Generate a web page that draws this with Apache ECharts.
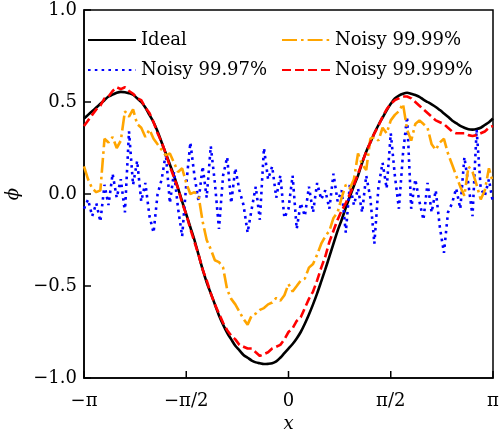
<!DOCTYPE html>
<html>
<head>
<meta charset="utf-8">
<script src="https://cdn.jsdelivr.net/npm/echarts@6/dist/echarts.min.js"></script>
<style>
html,body{margin:0;padding:0;background:#fff;}
#chart{width:499px;height:433px;}
</style>
</head>
<body>
<div id="chart"></div>
<script>
// x sample positions (radians)
const xs = [-3.1416,-3.079,-3.016,-2.953,-2.890,-2.827,-2.765,-2.702,-2.639,-2.576,
-2.513,-2.450,-2.388,-2.325,-2.262,-2.199,-2.136,-2.073,-2.011,-1.948,
-1.885,-1.822,-1.759,-1.696,-1.634,-1.571,-1.508,-1.445,-1.382,-1.319,
-1.257,-1.194,-1.131,-1.068,-1.005,-0.942,-0.880,-0.817,-0.754,-0.691,
-0.628,-0.565,-0.503,-0.440,-0.377,-0.314,-0.251,-0.188,-0.126,-0.063,
0,
0.063,0.126,0.188,0.251,0.314,0.377,0.440,0.503,0.565,0.628,
0.691,0.754,0.817,0.880,0.942,1.005,1.068,1.131,1.194,1.257,
1.319,1.382,1.445,1.508,1.571,1.634,1.696,1.759,1.822,1.885,
1.948,2.011,2.073,2.136,2.199,2.262,2.325,2.388,2.450,2.513,
2.576,2.639,2.702,2.765,2.827,2.890,2.953,3.016,3.079,3.1416];

const ideal = [0.41,0.43,0.45,0.47,0.49,0.51,0.53,0.54,0.55,0.555,
0.553,0.548,0.54,0.52,0.50,0.47,0.43,0.39,0.34,0.28,
0.22,0.16,0.10,0.03,-0.04,-0.11,-0.18,-0.25,-0.33,-0.41,
-0.48,-0.54,-0.60,-0.66,-0.71,-0.755,-0.79,-0.825,-0.85,-0.875,
-0.89,-0.905,-0.915,-0.92,-0.924,-0.923,-0.92,-0.91,-0.89,-0.865,
-0.84,-0.815,-0.785,-0.75,-0.705,-0.655,-0.60,-0.54,-0.475,-0.41,
-0.34,-0.27,-0.20,-0.14,-0.075,-0.015,0.045,0.10,0.17,0.23,
0.28,0.33,0.375,0.415,0.455,0.49,0.52,0.535,0.545,0.55,
0.545,0.538,0.528,0.513,0.50,0.487,0.473,0.456,0.438,0.42,
0.40,0.385,0.37,0.36,0.352,0.35,0.353,0.36,0.375,0.39,0.41];

const noisy9997 = [-0.08,-0.03,-0.12,-0.05,-0.15,0.05,-0.06,0.11,-0.02,0.08,
-0.10,0.34,0.05,0.18,-0.04,0.06,-0.12,-0.21,0.0,0.08,
0.22,-0.05,0.12,-0.08,-0.23,0.05,0.28,0.10,-0.04,0.15,
-0.02,0.26,0.06,-0.19,0.10,0.20,-0.05,0.14,0.02,-0.06,
-0.21,-0.08,0.04,-0.14,0.25,0.08,0.15,-0.02,0.10,-0.13,
-0.08,0.10,-0.19,-0.05,-0.12,0.04,-0.10,0.06,-0.03,0.02,
-0.08,0.11,-0.04,0.02,-0.21,0.05,-0.06,0.03,-0.10,0.10,
-0.02,-0.27,0.04,0.17,0.03,0.33,0.10,-0.08,0.22,0.42,
-0.08,0.08,-0.04,-0.14,0.06,-0.10,0.02,-0.18,-0.32,-0.10,
-0.05,0.03,-0.08,0.20,0.05,-0.12,0.35,0.03,-0.01,0.08,-0.05];

const noisy9999 = [0.15,0.08,0.03,0.01,0.02,0.30,0.28,0.31,0.25,0.29,
0.45,0.42,0.46,0.38,0.36,0.31,0.35,0.30,0.27,0.24,
0.21,0.22,0.17,0.12,0.14,0.06,0.0,0.01,-0.01,-0.15,
-0.25,-0.30,-0.36,-0.37,-0.40,-0.52,-0.57,-0.60,-0.64,-0.68,
-0.71,-0.66,-0.65,-0.63,-0.62,-0.60,-0.59,-0.565,-0.58,-0.55,
-0.49,-0.53,-0.50,-0.47,-0.46,-0.40,-0.38,-0.33,-0.27,-0.23,
-0.20,-0.13,-0.10,-0.02,0.05,0.03,0.08,0.22,0.16,0.13,
0.30,0.31,0.29,0.36,0.33,0.40,0.43,0.45,0.49,0.35,
0.29,0.38,0.40,0.38,0.36,0.27,0.24,0.28,0.30,0.22,
0.16,0.10,0.04,-0.01,0.15,0.12,0.05,-0.03,0.02,0.14,0.06];

const noisy99999 = [0.37,0.40,0.43,0.46,0.48,0.52,0.53,0.56,0.58,0.57,
0.58,0.56,0.545,0.52,0.51,0.47,0.44,0.39,0.33,0.28,
0.22,0.15,0.09,0.03,-0.05,-0.11,-0.19,-0.26,-0.33,-0.41,
-0.47,-0.54,-0.60,-0.65,-0.70,-0.74,-0.77,-0.79,-0.82,-0.83,
-0.84,-0.84,-0.86,-0.88,-0.87,-0.86,-0.84,-0.83,-0.82,-0.79,
-0.75,-0.73,-0.69,-0.67,-0.62,-0.57,-0.53,-0.47,-0.40,-0.34,
-0.26,-0.20,-0.14,-0.09,-0.05,0.0,0.05,0.11,0.17,0.23,
0.28,0.33,0.37,0.42,0.46,0.49,0.51,0.52,0.53,0.53,
0.52,0.50,0.48,0.46,0.44,0.42,0.40,0.39,0.38,0.36,
0.34,0.33,0.33,0.33,0.32,0.315,0.32,0.33,0.34,0.36,0.37];

const xTickValues = [-Math.PI, -Math.PI / 2, 0, Math.PI / 2, Math.PI];
const yTickValues = [-1, -0.5, 0, 0.5, 1];
const xTickLabels = ['\u2212\u03c0','\u2212\u03c0/2','0','\u03c0/2','\u03c0'];
const yTickLabels = ['\u22121.0','\u22120.5','0.0','0.5','1.0'];
const seriesNames = ['Ideal','Noisy 99.97%','Noisy 99.99%','Noisy 99.999%'];

const FONT = 'DejaVu Serif';
const pair = arr => xs.map((x, i) => [x, arr[i]]);

const chart = echarts.init(document.getElementById('chart'), null, {renderer: 'canvas'});
const legendBase = {
  padding: 0, itemGap: 0, itemWidth: 48, itemHeight: 12,
  textStyle: {fontFamily: FONT, fontSize: 18, color: '#000'},
  itemStyle: {color: 'transparent', borderWidth: 0, opacity: 0},
  selectedMode: false
};
// tick marks drawn inside the frame, positioned through the axes' own scales
const tickData = xTickValues.map(v => [v, -1, 0]).concat(yTickValues.map(v => [-Math.PI, v, 1]));
chart.setOption({
  animation: false,
  backgroundColor: '#fff',
  grid: {left: 84, right: 6, top: 10, bottom: 55, show: true, borderColor: '#000', borderWidth: 1.5,
         containLabel: false, outerBoundsMode: 'none'},
  legend: [
    Object.assign({}, legendBase, {data: [seriesNames[0]], left: 87, top: 31}),
    Object.assign({}, legendBase, {data: [seriesNames[2]], left: 281, top: 31}),
    Object.assign({}, legendBase, {data: [seriesNames[1]], left: 87, top: 61}),
    Object.assign({}, legendBase, {data: [seriesNames[3]], left: 281, top: 61})
  ],
  xAxis: {
    type: 'value', position: 'bottom', min: -Math.PI, max: Math.PI, interval: Math.PI / 2,
    name: 'x', nameLocation: 'middle', nameGap: 37,
    nameTextStyle: {fontFamily: FONT, fontStyle: 'italic', fontSize: 18, color: '#000'},
    axisLine: {show: true, onZero: false, lineStyle: {color: '#000', width: 1.5}},
    axisTick: {show: false},
    splitLine: {show: false},
    axisLabel: {
      margin: 14, fontFamily: FONT, fontSize: 18, color: '#000',
      formatter: v => xTickLabels[Math.round(v / (Math.PI / 2)) + 2]
    }
  },
  yAxis: {
    type: 'value', position: 'left', min: -1, max: 1, interval: 0.5,
    name: '\u03d5', nameLocation: 'middle', nameGap: 62, nameRotate: 90,
    nameTextStyle: {fontFamily: FONT, fontStyle: 'italic', fontSize: 18, color: '#000'},
    axisLine: {show: true, onZero: false, lineStyle: {color: '#000', width: 1.5}},
    axisTick: {show: false},
    splitLine: {show: false},
    axisLabel: {
      margin: 7, fontFamily: FONT, fontSize: 18, color: '#000',
      formatter: v => yTickLabels[Math.round(v / 0.5) + 2]
    }
  },
  series: [
    {name: seriesNames[0], type: 'line', data: pair(ideal), symbol: 'none', smooth: 0.3,
     lineStyle: {color: '#000', width: 2.6}, itemStyle: {color: '#000'}, z: 2},
    {name: seriesNames[1], type: 'line', data: pair(noisy9997), symbol: 'none',
     lineStyle: {color: '#0000ff', width: 2.6, type: [2.6, 4.2], cap: 'butt'}, itemStyle: {color: '#0000ff'}, z: 3},
    {name: seriesNames[2], type: 'line', data: pair(noisy9999), symbol: 'none',
     lineStyle: {color: '#ffa500', width: 2.6, type: [15, 4, 2.6, 4]}, itemStyle: {color: '#ffa500'}, z: 4},
    {name: seriesNames[3], type: 'line', data: pair(noisy99999), symbol: 'none',
     lineStyle: {color: '#ff0000', width: 2.6, type: [9, 4]}, itemStyle: {color: '#ff0000'}, z: 5},
    {name: 'ticks', type: 'custom', silent: true, clip: false, z: 10,
     data: tickData, encode: {x: 0, y: 1},
     renderItem: (params, api) => {
       const p = api.coord([api.value(0), api.value(1)]);
       const isY = api.value(2) === 1;
       return {
         type: 'line',
         shape: isY ? {x1: p[0], y1: p[1], x2: p[0] + 7, y2: p[1]}
                    : {x1: p[0], y1: p[1], x2: p[0], y2: p[1] - 7},
         style: {stroke: '#000', lineWidth: 1.5}
       };
     }}
  ]
});
</script>
</body>
</html>
